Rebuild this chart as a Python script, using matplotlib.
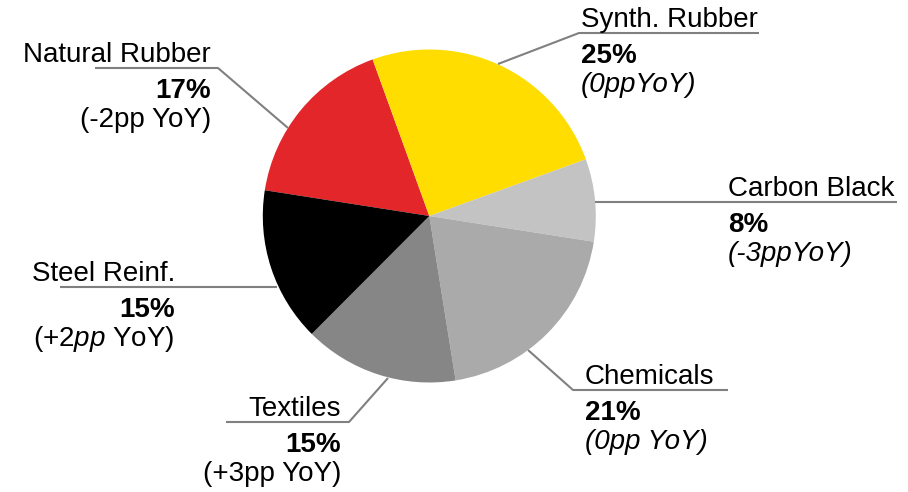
import matplotlib
matplotlib.use("Agg")
import matplotlib.pyplot as plt

plt.rcParams['font.family'] = ['Liberation Sans', 'DejaVu Sans']
plt.rcParams['mathtext.fontset'] = 'custom'
plt.rcParams['mathtext.rm'] = 'Liberation Sans'
plt.rcParams['mathtext.it'] = 'Liberation Sans:italic'
plt.rcParams['mathtext.bf'] = 'Liberation Sans:bold'

W, H = 908, 492

# slices, clockwise from Natural Rubber
categories = ['Natural Rubber', 'Synth. Rubber', 'Carbon Black', 'Chemicals', 'Textiles', 'Steel Reinf.']
shares = [17, 25, 8, 20, 15, 15]          # slice sizes as drawn
pct_labels = ['17%', '25%', '8%', '21%', '15%', '15%']
yoy_labels = ['(-2pp YoY)', '(0ppYoY)', '(-3ppYoY)', '(0pp YoY)', '(+3pp YoY)', '(+2$\\mathit{pp}$ YoY)']
yoy_italic = [False, True, True, True, False, False]
colors = ['#E3262A', '#FFDD00', '#C3C3C3', '#AAAAAA', '#868686', '#000000']

# label layout (pixel coords): pie edge point, elbow, far end of underline, text anchor
leaders = [
    ((288, 128), (218, 68), (95, 68), 211, 'right'),
    ((498, 64), (579, 33), (759, 33), 581, 'left'),
    ((595, 202), (595, 202), (897, 202), 728, 'left'),
    ((528, 350), (573, 390), (728, 390), 585, 'left'),
    ((388, 378), (349, 422), (226, 422), 341, 'right'),
    ((277, 287), (277, 287), (60, 287), 175, 'right'),
]

fig = plt.figure(figsize=(W / 100, H / 100), dpi=100)
ax = fig.add_axes([0, 0, 1, 1])

ax.pie(shares, colors=colors, startangle=171.1, counterclock=False,
       center=(429.3, H - 216), radius=166.5, wedgeprops=dict(linewidth=0))
ax.set_xlim(0, W)
ax.set_ylim(0, H)
ax.set_aspect('equal')
ax.axis('off')

fs = 20
for i, (edge, elbow, end, tx, ha) in enumerate(leaders):
    xs = [edge[0], elbow[0], end[0]]
    ys = [H - edge[1], H - elbow[1], H - end[1]]
    ax.plot(xs, ys, color='#808080', lw=1.5, solid_capstyle='butt', zorder=1)
    ly = end[1]
    ax.text(tx, H - (ly - 6), categories[i], ha=ha, va='baseline', fontsize=fs)
    ax.text(tx, H - (ly + 30), pct_labels[i], ha=ha, va='baseline', fontsize=fs, fontweight='bold')
    ax.text(tx, H - (ly + 59), yoy_labels[i], ha=ha, va='baseline', fontsize=fs,
            fontstyle='italic' if yoy_italic[i] else 'normal')

fig.savefig('out.png', dpi=100)
